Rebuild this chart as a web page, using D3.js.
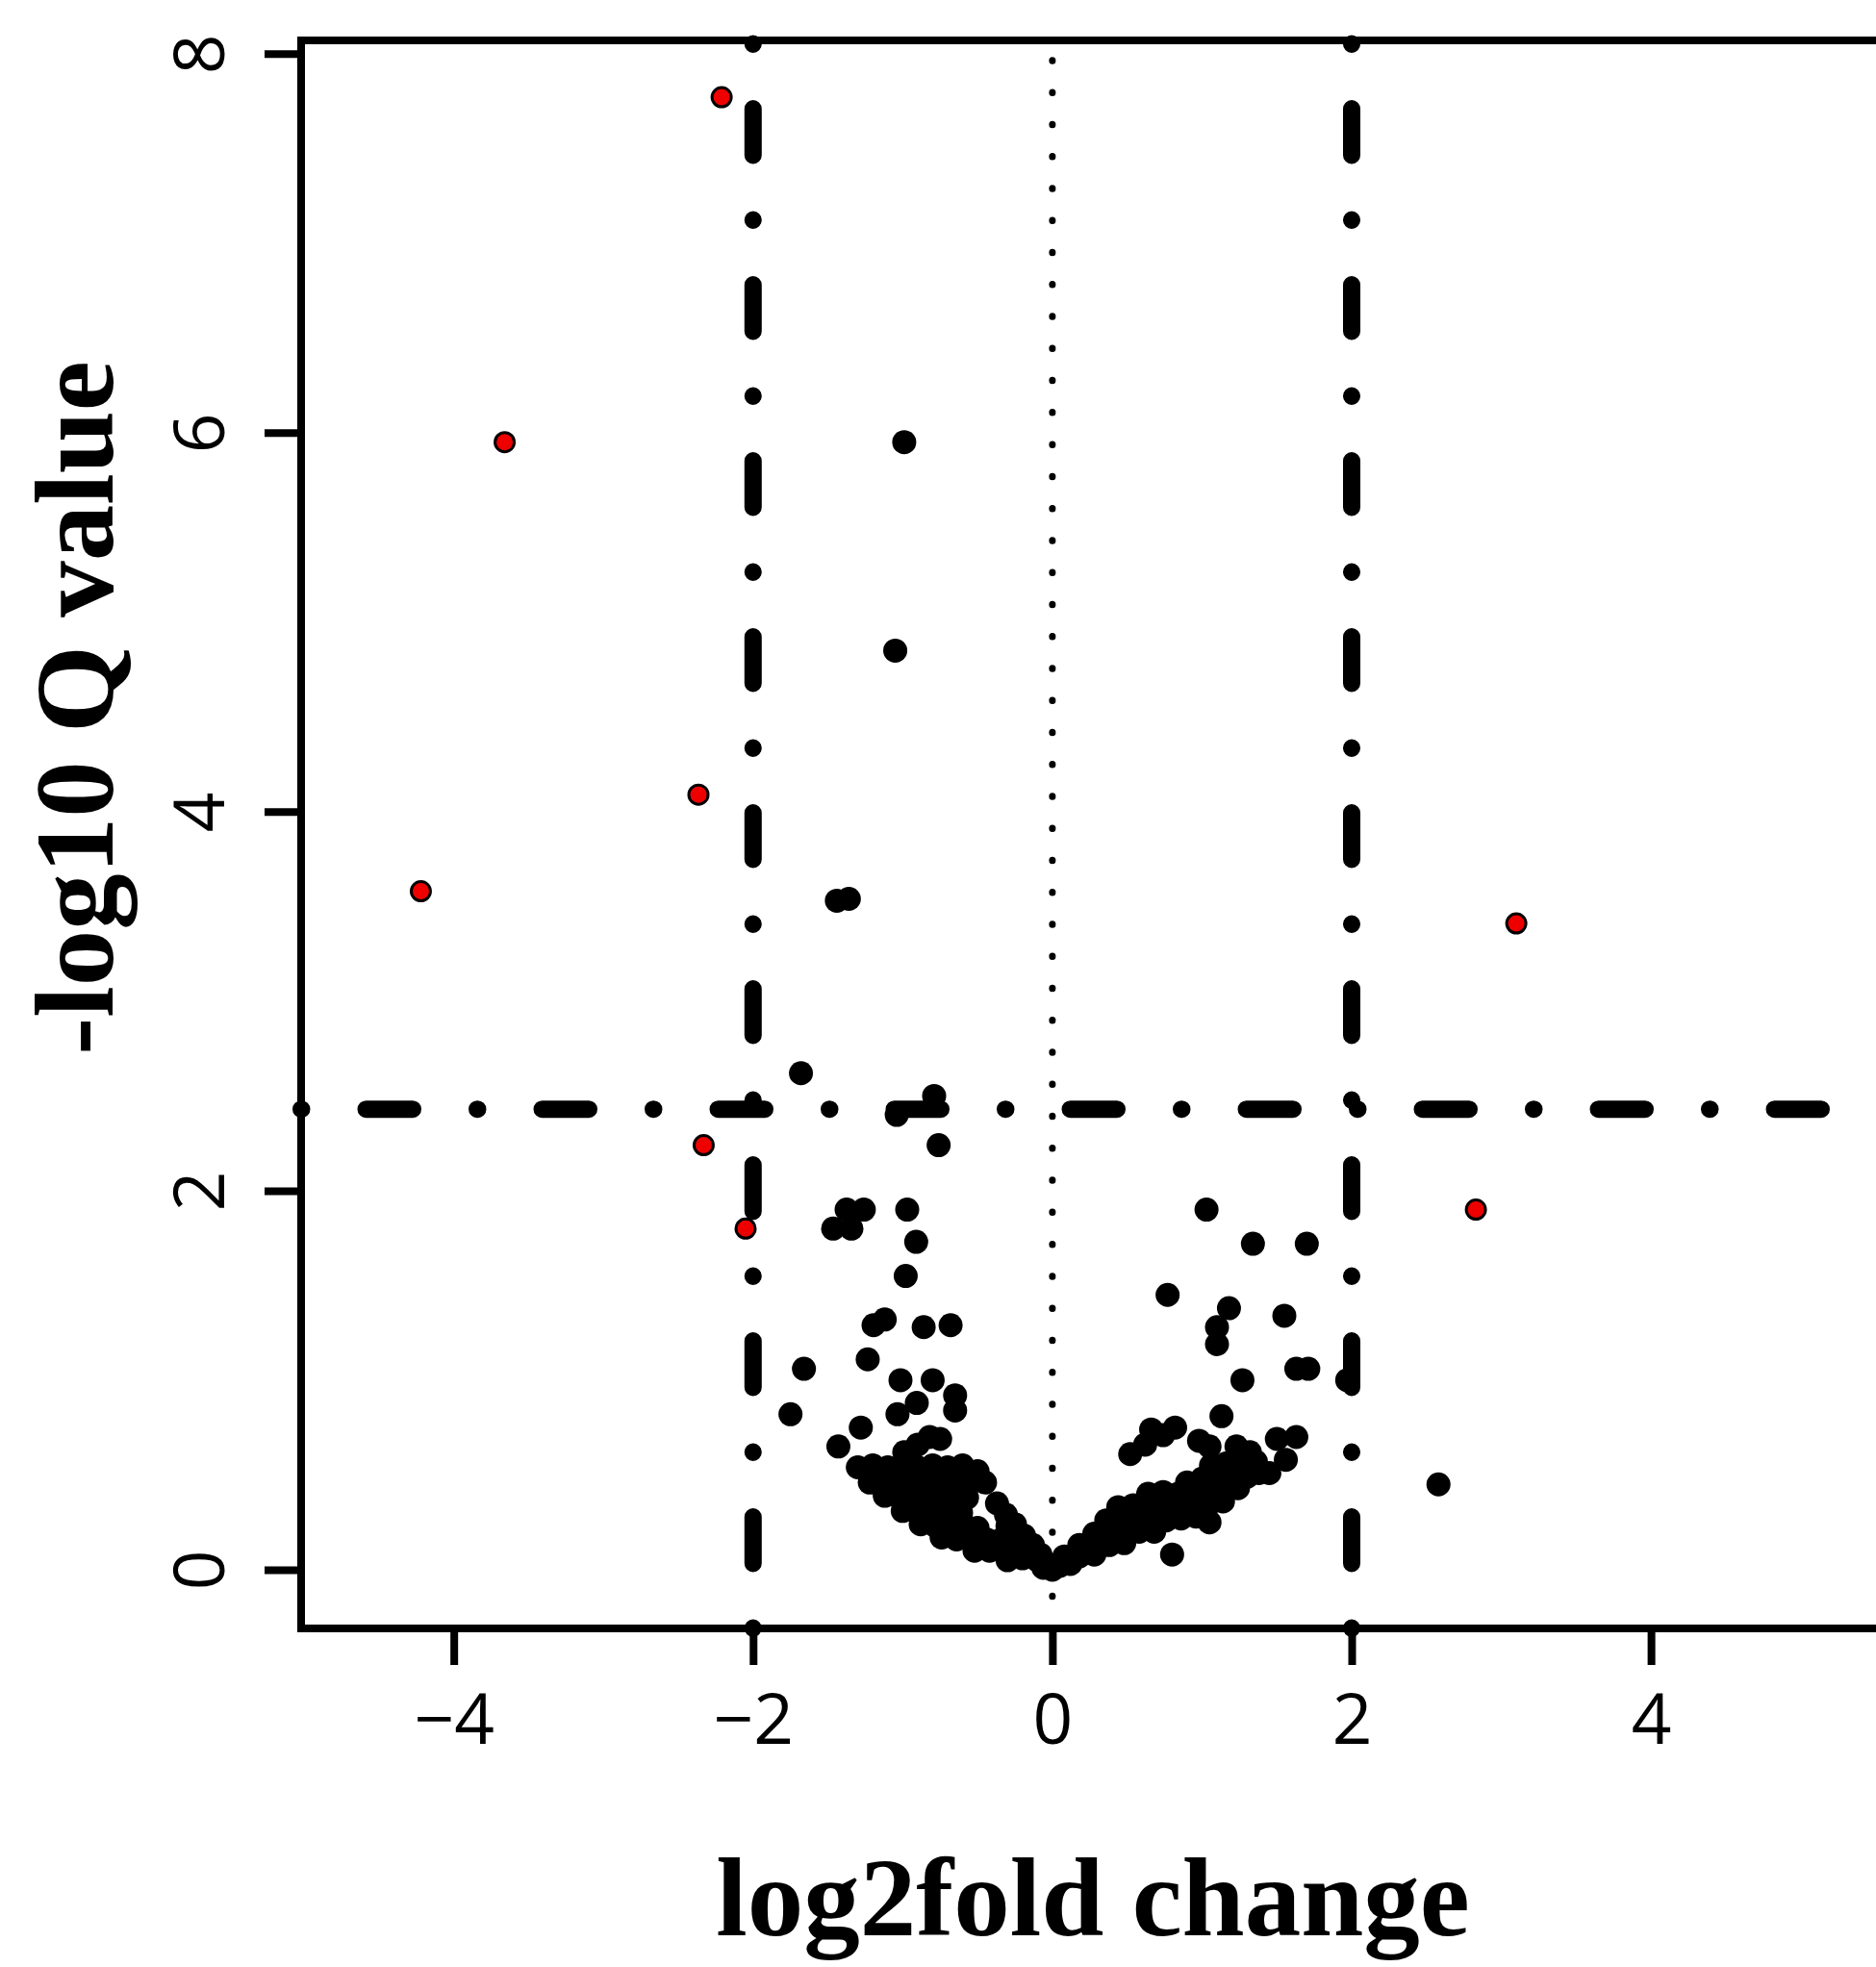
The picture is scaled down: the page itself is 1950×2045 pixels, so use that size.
<!DOCTYPE html>
<html>
<head>
<meta charset="utf-8">
<script src="https://cdn.jsdelivr.net/npm/d3@7"></script>
<style>
  html, body { margin: 0; padding: 0; background: #ffffff; }
  svg { display: block; }
</style>
</head>
<body>
<div id="chart"></div>
<script>
// ---------------- data ----------------
const xTicks = [-4, -2, 0, 2, 4];
const yTicks = [0, 2, 4, 6, 8];
const foldCutoffs = [-2, 2];
const qCutoff = 2.43;
const xTitle = "log2fold change";
const yTitle = "-log10 Q value";

// significant genes (red)
const sigPoints = [
  [-2.21, 7.77], [-3.66, 5.95], [-2.365, 4.09], [-4.22, 3.58],
  [3.10, 3.41], [-2.33, 2.24], [-2.05, 1.80], [2.83, 1.90]
];

// non-significant scattered genes (black)
const scatterPoints = [
  [-0.99, 5.95], [-1.05, 4.85], [-1.44, 3.53], [-1.36, 3.54], [-1.68, 2.62],
  [-0.79, 2.50], [-1.04, 2.40], [-0.76, 2.24],
  [-1.375, 1.90], [-1.26, 1.90], [-1.465, 1.80], [-1.343, 1.80], [-0.97, 1.90],
  [-0.91, 1.73], [-0.98, 1.55], [-1.195, 1.29], [-1.12, 1.32], [-0.86, 1.28],
  [-0.68, 1.29], [-1.234, 1.11], [-1.66, 1.06], [-1.015, 1.00], [-0.80, 1.00],
  [-0.65, 0.92], [-0.65, 0.84], [-0.906, 0.88], [-1.035, 0.82], [-1.75, 0.82],
  [-1.28, 0.75], [-1.43, 0.65], [-0.82, 0.70], [-0.75, 0.69], [-0.90, 0.66],
  [-0.99, 0.62],
  [1.03, 1.90], [1.34, 1.72], [1.70, 1.72], [0.77, 1.45], [1.18, 1.38],
  [1.10, 1.28], [1.10, 1.19], [1.55, 1.34], [1.63, 1.06], [1.71, 1.06],
  [1.97, 1.00], [1.27, 1.00], [1.13, 0.81], [0.66, 0.74], [0.82, 0.75],
  [0.74, 0.71], [0.62, 0.66], [0.52, 0.61], [0.98, 0.68], [1.05, 0.65],
  [1.23, 0.65], [1.32, 0.62], [1.50, 0.69], [1.63, 0.70], [1.56, 0.58],
  [1.45, 0.51], [1.05, 0.25], [0.80, 0.08], [2.58, 0.45]
];

// dense cluster, down-regulated side
const clusterLeft = [
  [-1.30, 0.54], [-1.20, 0.55], [-1.10, 0.54], [-1.00, 0.55], [-0.90, 0.54],
  [-0.80, 0.55], [-0.70, 0.54], [-0.60, 0.55], [-0.50, 0.52],
  [-1.22, 0.46], [-1.12, 0.47], [-1.02, 0.46], [-0.92, 0.47], [-0.82, 0.46],
  [-0.72, 0.47], [-0.62, 0.46], [-0.52, 0.47], [-0.45, 0.46],
  [-1.12, 0.39], [-1.02, 0.38], [-0.92, 0.39], [-0.82, 0.38], [-0.72, 0.39],
  [-0.62, 0.38], [-0.57, 0.38],
  [-1.00, 0.31], [-0.90, 0.30], [-0.80, 0.31], [-0.70, 0.30], [-0.61, 0.30],
  [-0.88, 0.24], [-0.78, 0.23], [-0.68, 0.24], [-0.58, 0.23], [-0.50, 0.22],
  [-0.30, 0.23],
  [-0.74, 0.17], [-0.64, 0.16], [-0.54, 0.17], [-0.44, 0.16], [-0.34, 0.16],
  [-0.24, 0.17],
  [-0.52, 0.10], [-0.42, 0.10], [-0.32, 0.11], [-0.22, 0.10], [-0.14, 0.10],
  [-0.30, 0.05], [-0.20, 0.06], [-0.10, 0.05],
  [-0.06, 0.01], [0.00, 0.00],
  [-0.37, 0.35], [-0.31, 0.29], [-0.25, 0.24], [-0.19, 0.18], [-0.13, 0.13],
  [-0.08, 0.08], [-0.03, 0.03]
];

// dense cluster, up-regulated side
const clusterRight = [
  [0.05, 0.02], [0.12, 0.03],
  [0.08, 0.07], [0.18, 0.07], [0.28, 0.08],
  [0.18, 0.13], [0.28, 0.13], [0.38, 0.13], [0.48, 0.14],
  [0.28, 0.19], [0.38, 0.20], [0.48, 0.19], [0.58, 0.20], [0.68, 0.20],
  [0.36, 0.26], [0.46, 0.27], [0.56, 0.26], [0.66, 0.27], [0.76, 0.26],
  [0.86, 0.27], [0.96, 0.28],
  [0.44, 0.33], [0.54, 0.34], [0.64, 0.33], [0.74, 0.34], [0.84, 0.33],
  [0.94, 0.34], [1.04, 0.34], [1.14, 0.36],
  [0.64, 0.40], [0.74, 0.41], [0.84, 0.40], [0.94, 0.41], [1.04, 0.41],
  [1.14, 0.42], [1.24, 0.43],
  [0.90, 0.46], [1.00, 0.48], [1.10, 0.48], [1.20, 0.49], [1.30, 0.49],
  [1.38, 0.51],
  [1.06, 0.55], [1.16, 0.56], [1.26, 0.56], [1.36, 0.57]
];

// ---------------- layout ----------------
const W = 1950, H = 2045;
const plotLeft = 313, plotTop = 42, plotBottom = 1693, plotRight = 1965;

const x = d3.scaleLinear().domain([-5.02, 5.6]).range([plotLeft, plotRight]);
const y = d3.scaleLinear().domain([-0.31, 8.07]).range([plotBottom, plotTop]);

const svg = d3.select("#chart").append("svg")
  .attr("width", W).attr("height", H)
  .attr("viewBox", `0 0 ${W} ${H}`);

svg.append("rect").attr("width", W).attr("height", H).attr("fill", "#ffffff");

const tickFont = "'Open Sans', 'Noto Sans', sans-serif";
const titleFont = "'Liberation Serif', 'Times New Roman', serif";

// frame
svg.append("rect")
  .attr("x", plotLeft).attr("y", plotTop)
  .attr("width", plotRight - plotLeft + 40).attr("height", plotBottom - plotTop)
  .attr("fill", "none").attr("stroke", "#000").attr("stroke-width", 8);

// x axis
const xAxis = svg.append("g")
  .attr("transform", `translate(0,${plotBottom})`)
  .call(d3.axisBottom(x).tickValues(xTicks).tickSize(38).tickFormat(d3.format("")));
xAxis.select(".domain").remove();
xAxis.selectAll(".tick line").attr("stroke", "#000").attr("stroke-width", 8);
xAxis.selectAll(".tick text")
  .attr("y", 120).attr("dy", null)
  .attr("fill", "#000")
  .style("font-family", tickFont).style("font-size", "73px");

// y axis
const yAxis = svg.append("g")
  .attr("transform", `translate(${plotLeft},0)`)
  .call(d3.axisLeft(y).tickValues(yTicks).tickSize(38).tickFormat(d3.format("")));
yAxis.select(".domain").remove();
yAxis.selectAll(".tick line").attr("stroke", "#000").attr("stroke-width", 8);
yAxis.selectAll(".tick text")
  .attr("x", null).attr("dy", null)
  .attr("text-anchor", "middle")
  .attr("transform", "translate(-80,0) rotate(-90)")
  .attr("fill", "#000")
  .style("font-family", tickFont).style("font-size", "73px");

// threshold lines (dot-dash)
const dotdash = "0.5 67 48.5 67";
svg.selectAll("line.vcut").data(foldCutoffs).enter().append("line")
  .attr("class", "vcut")
  .attr("x1", d => x(d)).attr("x2", d => x(d))
  .attr("y1", plotBottom).attr("y2", plotTop)
  .attr("stroke", "#000").attr("stroke-width", 18)
  .attr("stroke-linecap", "round")
  .attr("stroke-dasharray", dotdash);

svg.append("line")
  .attr("x1", plotLeft).attr("x2", plotRight)
  .attr("y1", y(qCutoff)).attr("y2", y(qCutoff))
  .attr("stroke", "#000").attr("stroke-width", 18)
  .attr("stroke-linecap", "round")
  .attr("stroke-dasharray", dotdash);

// dotted zero line
svg.append("line")
  .attr("x1", x(0)).attr("x2", x(0))
  .attr("y1", plotBottom).attr("y2", plotTop)
  .attr("stroke", "#000").attr("stroke-width", 7)
  .attr("stroke-linecap", "round")
  .attr("stroke-dasharray", "0.5 32.76");

// black points
const blackPts = scatterPoints.concat(clusterLeft, clusterRight);
svg.append("g").selectAll("circle").data(blackPts).enter().append("circle")
  .attr("cx", d => x(d[0])).attr("cy", d => y(d[1]))
  .attr("r", 12.5).attr("fill", "#000");

// red points
svg.append("g").selectAll("circle").data(sigPoints).enter().append("circle")
  .attr("cx", d => x(d[0])).attr("cy", d => y(d[1]))
  .attr("r", 10).attr("fill", "#ee0000")
  .attr("stroke", "#000").attr("stroke-width", 3);

// titles
svg.append("text")
  .attr("x", 1136).attr("y", 2012)
  .attr("text-anchor", "middle")
  .style("font-family", titleFont).style("font-weight", "bold").style("font-size", "117px")
  .attr("fill", "#000")
  .text(xTitle);

svg.append("text")
  .attr("transform", "translate(117,736) rotate(-90)")
  .attr("text-anchor", "middle")
  .style("font-family", titleFont).style("font-weight", "bold").style("font-size", "117px")
  .attr("fill", "#000")
  .text(yTitle);
</script>
</body>
</html>
